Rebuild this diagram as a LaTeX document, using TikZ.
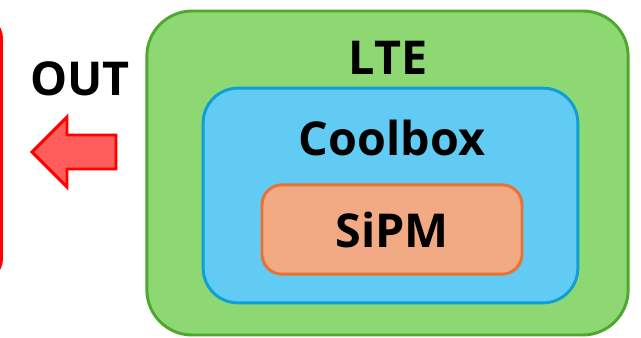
\documentclass[tikz,border=0pt]{standalone}
\usepackage{fontspec}
\setmainfont{Open Sans}
\definecolor{lteFill}{HTML}{8ED873}
\definecolor{lteLine}{HTML}{4EA72E}
\definecolor{coolFill}{HTML}{61CBF3}
\definecolor{coolLine}{HTML}{0F9ED5}
\definecolor{sipmFill}{HTML}{F2AA84}
\definecolor{sipmLine}{HTML}{E97132}
\definecolor{outFill}{HTML}{FF5C5C}
\begin{document}
\begin{tikzpicture}[x=0.75pt,y=-0.75pt]
	\tikzset{box/.style={draw, line width=2.2pt, inner sep=0pt},
		lbl/.style={font=\fontsize{35}{42}\selectfont\bfseries, inner sep=0pt}}
	\useasboundingbox (0,0) rectangle (641,338);
	\clip (0,0) rectangle (641,338);
	% red frame, mostly cut off on the left
	\draw[red, line width=2.2pt, rounded corners=16pt] (-60,17) rectangle (1.5,280);
	% nested boxes
	\node[box, draw=lteLine, fill=lteFill, rounded corners=34pt,
		minimum width=361pt, minimum height=243pt] (lte) at (387.5,173) {};
	\node[box, draw=coolLine, fill=coolFill, rounded corners=26pt,
		minimum width=281pt, minimum height=161pt] (cool) at (390.5,195.5) {};
	\node[box, draw=sipmLine, fill=sipmFill, rounded corners=15pt,
		minimum width=195pt, minimum height=67pt, lbl] (sipm) at (392,229.5) {SiPM};
	\node[lbl] (ltelbl) at (388,58) {LTE};
	\node[lbl] (coollbl) at (392,138) {Coolbox};
	% output
	\node[lbl] (out) at (80,79) {OUT};
	\draw[red, fill=outFill, line width=2.2pt, line join=miter]
		(116,135) -- (67,135) -- (67,117) -- (32,152) -- (67,187) -- (67,169) -- (116,169) -- cycle;
\end{tikzpicture}
\end{document}
